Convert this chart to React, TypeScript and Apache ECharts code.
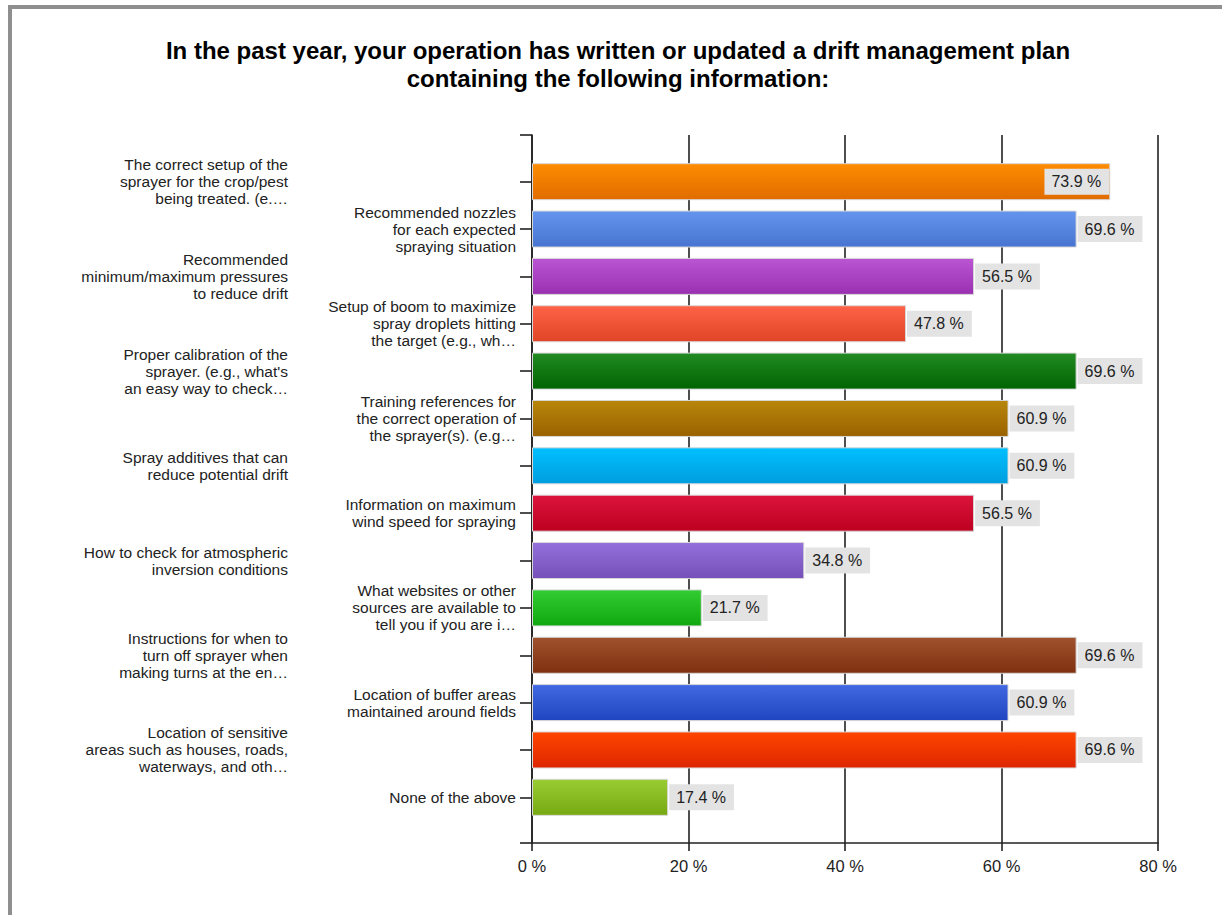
import React, { useEffect, useRef } from "react";
import * as echarts from "echarts";

const categories = [
  "The correct setup of the\nsprayer for the crop/pest\nbeing treated. (e.…",
  "Recommended nozzles\nfor each expected\nspraying situation",
  "Recommended\nminimum/maximum pressures\nto reduce drift",
  "Setup of boom to maximize\nspray droplets hitting\nthe target (e.g., wh…",
  "Proper calibration of the\nsprayer. (e.g., what's\nan easy way to check…",
  "Training references for\nthe correct operation of\nthe sprayer(s). (e.g…",
  "Spray additives that can\nreduce potential drift",
  "Information on maximum\nwind speed for spraying",
  "How to check for atmospheric\ninversion conditions",
  "What websites or other\nsources are available to\ntell you if you are i…",
  "Instructions for when to\nturn off sprayer when\nmaking turns at the en…",
  "Location of buffer areas\nmaintained around fields",
  "Location of sensitive\nareas such as houses, roads,\nwaterways, and oth…",
  "None of the above",
];

const values = [73.9, 69.6, 56.5, 47.8, 69.6, 60.9, 60.9, 56.5, 34.8, 21.7, 69.6, 60.9, 69.6, 17.4];

const tickLabels = ["0 %", "20 %", "40 %", "60 %", "80 %"];

const topColors = [
  "#ff8c00", "#6495ed", "#ba55d3", "#ff6347", "#228b22", "#b8860b", "#00bfff",
  "#dc143c", "#9370db", "#32cd32", "#a0522d", "#4169e1", "#ff4500", "#9acd32",
];
const bottomColors = [
  "#e06c00", "#4774d0", "#9a30b0", "#e04528", "#006400", "#9a6200", "#009ede",
  "#bd0020", "#7650b8", "#10a810", "#7f3010", "#2045c0", "#dd2600", "#76a812",
];

const TITLE =
  "In the past year, your operation has written or updated a drift management plan\ncontaining the following information:";

export default function App() {
  const ref = useRef<HTMLDivElement>(null);
  useEffect(() => {
    const chart = echarts.init(ref.current!, null, { renderer: "svg" });
    const font = "Liberation Sans";
    const labelStyle = {
      fontFamily: font,
      fontSize: 15.5,
      lineHeight: 17,
      color: "#222",
    };
    const option: any = {
      animation: false,
      backgroundColor: "#fff",
      graphic: [
        {
          type: "rect",
          shape: { x: 10, y: 7, width: 1300, height: 1000 },
          style: { fill: "none", stroke: "#8f8f8f", lineWidth: 4 },
          silent: true,
        },
        {
          type: "text",
          x: 618,
          y: 64,
          style: {
            text: TITLE,
            textAlign: "center",
            textVerticalAlign: "middle",
            fontFamily: font,
            fontWeight: "bold",
            fontSize: 24,
            lineHeight: 28,
            fill: "#000",
          },
        },
      ],
      grid: [
        { left: 532, top: 135, width: 626, height: 708 },
        { left: 532, top: 158, width: 626, height: 663 },
      ],
      xAxis: [
        {
          gridIndex: 0,
          type: "value",
          min: 0,
          max: 80,
          interval: 20,
          axisLine: { show: true, lineStyle: { color: "#222", width: 1.6 } },
          axisTick: { show: true, length: 8, lineStyle: { color: "#222", width: 1.6 } },
          splitLine: { show: true, lineStyle: { color: "#222", width: 1.6 } },
          axisLabel: {
            margin: 14,
            fontFamily: font,
            fontSize: 16.5,
            color: "#222",
            formatter: (v: number) => tickLabels[Math.round(v / 20)] ?? `${v} %`,
          },
        },
        {
          gridIndex: 1,
          type: "value",
          min: 0,
          max: 80,
          show: false,
        },
      ],
      yAxis: [
        {
          gridIndex: 0,
          type: "value",
          min: 0,
          max: 1,
          interval: 1,
          axisLine: { show: true, lineStyle: { color: "#222", width: 1.6 } },
          axisTick: { show: true, length: 12, lineStyle: { color: "#222", width: 1.6 } },
          axisLabel: { show: false },
          splitLine: { show: false },
        },
        {
          gridIndex: 1,
          type: "category",
          data: categories,
          inverse: true,
          position: "left",
          axisLine: { show: false },
          axisTick: { show: true, alignWithLabel: true, length: 12, lineStyle: { color: "#222", width: 1.6 } },
          axisLabel: {
            ...labelStyle,
            interval: 0,
            margin: 16,
            align: "right",
            formatter: (v: string, i: number) => (i % 2 === 1 ? v : ""),
          },
          splitLine: { show: false },
        },
        {
          gridIndex: 1,
          type: "category",
          data: categories,
          inverse: true,
          position: "left",
          axisLine: { show: false },
          axisTick: { show: false },
          axisLabel: {
            ...labelStyle,
            interval: 0,
            margin: 244,
            align: "right",
            formatter: (v: string, i: number) => (i % 2 === 0 ? v : ""),
          },
          splitLine: { show: false },
        },
      ],
      series: [
        {
          type: "bar",
          xAxisIndex: 1,
          yAxisIndex: 1,
          barWidth: 37,
          data: values.map((v, i) => ({
            value: v,
            itemStyle: {
              color: new echarts.graphic.LinearGradient(0, 0, 0, 1, [
                { offset: 0, color: topColors[i] },
                { offset: 1, color: bottomColors[i] },
              ]),
              borderColor: "#d8d8d8",
              borderWidth: 1,
            },
            label: v * (626 / 80) + 70 > 626 ? { position: "insideRight", distance: 1 } : {},
          })),
          label: {
            show: true,
            position: "right",
            distance: 1,
            formatter: (p: any) => `${p.value} %`,
            backgroundColor: "#e3e3e3",
            padding: [5, 8, 5, 7],
            fontFamily: font,
            fontSize: 16,
            color: "#222",
          },
        },
      ],
    };
    chart.setOption(option);
    return () => chart.dispose();
  }, []);
  return (
    <div
      ref={ref}
      style={{ position: "absolute", left: 0, top: 0, width: 1222, height: 915, background: "#fff" }}
    />
  );
}
